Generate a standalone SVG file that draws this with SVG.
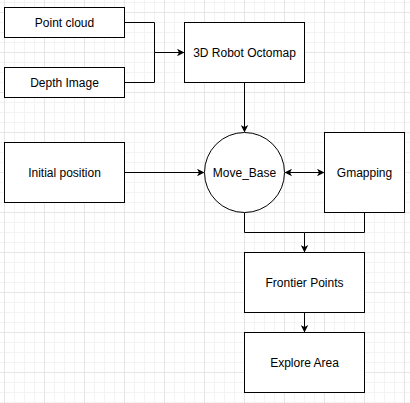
<svg xmlns="http://www.w3.org/2000/svg" width="410" height="403" viewBox="0 0 410 403">
<style>
.box{fill:#fff;stroke:#000;stroke-width:1}
.lbl{font-family:"Liberation Sans",Arial,sans-serif;font-size:12px;fill:#000;text-anchor:middle;dominant-baseline:central}
.edge{fill:none;stroke:#000;stroke-width:1}
</style>
<defs>
<pattern id="grid" patternUnits="userSpaceOnUse" x="4" y="12" width="40" height="40">
<path d="M10.5,0V40M20.5,0V40M30.5,0V40M0,10.5H40M0,20.5H40M0,30.5H40" fill="none" stroke="#f3f3f3" stroke-width="1"/>
<path d="M0.5,0V40M0,0.5H40" fill="none" stroke="#e6e6e6" stroke-width="1"/>
</pattern>
<marker id="arr" viewBox="-9 -4 10 8" refX="-1" refY="0" markerWidth="10" markerHeight="8" markerUnits="userSpaceOnUse" orient="auto-start-reverse">
<path d="M0,0 L-7.5,-3.75 L-5.5,0 L-7.5,3.75 Z" fill="#000"/>
</marker>
</defs>
<rect width="410" height="403" fill="#fff"/>
<rect width="410" height="403" fill="url(#grid)"/>
<g id="connectors">
<path class="edge" d="M124.5,22.5H154.5V52.5H183.5" marker-end="url(#arr)"/>
<path class="edge" d="M124.5,82.5H154.5V52.5"/>
<path class="edge" d="M244.5,82.5V131.5" marker-end="url(#arr)"/>
<path class="edge" d="M124.5,172.5H203.5" marker-end="url(#arr)"/>
<path class="edge" d="M285.5,172.5H323.5" marker-start="url(#arr)" marker-end="url(#arr)"/>
<path class="edge" d="M244.5,212.5V232.5H304.5V251.5" marker-end="url(#arr)"/>
<path class="edge" d="M364.5,212.5V232.5H304.5"/>
<path class="edge" d="M304.5,312.5V331.5" marker-end="url(#arr)"/>
</g>
<g id="point-cloud"><rect class="box" x="4.5" y="7.5" width="120" height="30"/><text class="lbl" x="64.5" y="22.5">Point cloud</text></g>
<g id="depth-image"><rect class="box" x="4.5" y="67.5" width="120" height="30"/><text class="lbl" x="64.5" y="82.5">Depth Image</text></g>
<g id="octomap"><rect class="box" x="184.5" y="22.5" width="120" height="60"/><text class="lbl" x="244.5" y="52.5">3D Robot Octomap</text></g>
<g id="initial-position"><rect class="box" x="4.5" y="142.5" width="120" height="60"/><text class="lbl" x="64.5" y="172.5">Initial position</text></g>
<g id="move-base"><circle class="box" cx="244.5" cy="172.5" r="40"/><text class="lbl" x="244.5" y="172.5">Move_Base</text></g>
<g id="gmapping"><rect class="box" x="324.5" y="132.5" width="80" height="80"/><text class="lbl" x="364.5" y="172.5">Gmapping</text></g>
<g id="frontier-points"><rect class="box" x="244.5" y="252.5" width="120" height="60"/><text class="lbl" x="304.5" y="282.5">Frontier Points</text></g>
<g id="explore-area"><rect class="box" x="244.5" y="332.5" width="120" height="60"/><text class="lbl" x="304.5" y="362.5">Explore Area</text></g>
</svg>
